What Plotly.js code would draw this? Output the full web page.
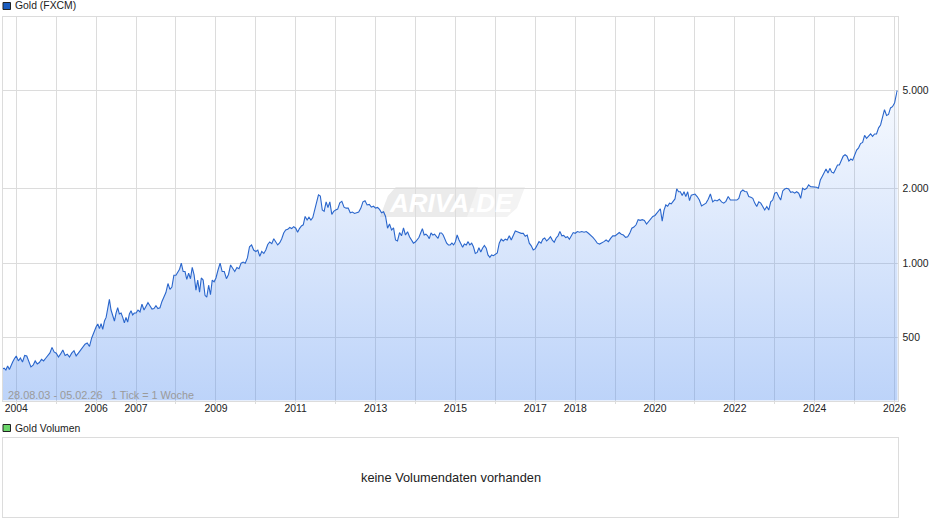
<!DOCTYPE html>
<html>
<head>
<meta charset="utf-8">
<script src="https://cdn.plot.ly/plotly-3.0.1.min.js"></script>
<style>html,body{margin:0;padding:0;background:#fff}#chart{width:940px;height:526px}</style>
</head>
<body>
<div id="chart"></div>
<script>
const seriesName = 'Gold (FXCM)';
const volumeName = 'Gold Volumen';
const volumeNote = 'keine Volumendaten vorhanden';
const rangeNote = '28.08.03 - 05.02.26';
const tickNote = '1 Tick = 1 Woche';
const watermark = 'ARIVA.DE';
const startDate = '2003-08-28';
const endDate = '2026-02-05';
const axisEnd = '2026-01-28';

const y2003 = [373,376,369,383,371,386,399,411];
const y2004 = [421,402,413,398,423,421,399,380,386,402,391,396,408,402,412,421,433,456,437];
const y2005 = [432,417,429,445,423,428,417,432,442,421,432,445,456,470,475,460,498,526];
const y2006 = [553,567,543,569,539,583,603,656,714,646,605,583,628,661,623,628,603,573,603,577,623,642,617,628];
const y2007 = [628,646,635,682,646,666,692,672,652,655,672,655,660,700,732,760,827,783,800,893];
const y2008 = [893,920,945,1000,925,925,860,910,865,961,897,778,854,763,871,854,741,729,814,745,854,840];
const y2009 = [871,938,1000,925,925,865,900,983,950,925,960,950,1000,1010,1000,1050,1165,1185,1130];
const y2010 = [1115,1130,1065,1115,1095,1130,1190,1218,1200,1256,1218,1185,1210,1256,1325,1362,1370,1394,1380,1405];
const y2011 = [1385,1333,1380,1415,1430,1545,1495,1535,1495,1530,1641,1780,1890,1870,1641,1620,1770,1680,1770,1575,1620];
const y2012 = [1640,1655,1755,1780,1685,1670,1670,1600,1610,1590,1600,1610,1670,1770,1790,1720,1730,1685,1700];
const y2013 = [1670,1680,1650,1600,1615,1545,1385,1440,1362,1390,1241,1230,1330,1290,1390,1300,1340,1280,1241,1205];
const y2014 = [1220,1245,1270,1325,1380,1300,1310,1290,1256,1325,1300,1310,1280,1260,1325,1325,1300,1241,1205,1185,1185,1205,1185];
const y2015 = [1222,1300,1241,1205,1160,1195,1185,1222,1185,1205,1165,1095,1105,1155,1110,1150,1180,1150,1080,1055,1080,1072];
const y2016 = [1090,1100,1205,1250,1230,1250,1240,1290,1240,1300,1350,1340,1330,1320,1320,1285,1300,1205,1175,1130];
const y2017 = [1145,1190,1222,1205,1250,1265,1230,1250,1280,1240,1215,1265,1290,1345,1290,1295,1270,1280,1250,1290,1330];
const y2018 = [1321,1342,1334,1342,1334,1342,1321,1301,1272,1241,1205,1195,1205,1222,1241,1222,1260,1290];
const y2019 = [1290,1310,1330,1310,1300,1272,1280,1320,1385,1400,1430,1500,1490,1500,1490,1440,1480,1520,1545];
const y2020 = [1560,1590,1615,1660,1480,1640,1720,1700,1750,1740,1780,1820,2000,1945,1945,1880,1945,1860,1945,1790,1885,1900];
const y2021 = [1905,1860,1801,1705,1735,1750,1815,1905,1770,1801,1785,1815,1770,1750,1780,1860,1801,1801];
const y2022 = [1801,1801,1830,1945,1977,1950,1945,1860,1850,1830,1750,1695,1770,1750,1695,1641,1695,1641,1770,1801];
const y2023 = [1920,1935,1860,1801,1960,1995,2010,1995,1935,1945,1920,1945,1920,1830,2010,1985,2010,2075,2040,2040];
const y2024 = [2040,2030,2010,2170,2245,2320,2405,2315,2420,2335,2315,2400,2495,2495,2615,2710,2750,2710,2590,2640,2610];
const y2025 = [2735,2871,2930,3050,3080,3290,3200,3260,3335,3260,3335,3335,3530,3625,3880,4180,3960,4000,4250,4300];
const y2026 = [4450,4700,4980,4950];

const yearRows = [y2003,y2004,y2005,y2006,y2007,y2008,y2009,y2010,y2011,y2012,y2013,y2014,y2015,y2016,y2017,y2018,y2019,y2020,y2021,y2022,y2023,y2024,y2025,y2026];
const gridYears = [2004,2005,2006,2007,2008,2009,2010,2011,2012,2013,2014,2015,2016,2017,2018,2019,2020,2021,2022,2023,2024,2025,2026];
const labelledYears = [2004,2006,2007,2009,2011,2013,2015,2017,2018,2020,2022,2024,2026];
const priceTicks = [500,1000,2000,5000];
const priceLabels = ['500','1.000','2.000','5.000'];
const axisFloor = 277;

const dates = [], prices = [];
yearRows.forEach(function (row, r) {
  const year = 2003 + r;
  const a = r === 0 ? Date.parse(startDate) : Date.UTC(year, 0, 1);
  const b = r === yearRows.length - 1 ? Date.parse(endDate) : Date.UTC(year + 1, 0, 1);
  const div = r === yearRows.length - 1 ? row.length - 1 : row.length;
  row.forEach(function (v, i) {
    dates.push(new Date(a + (b - a) * i / div).toISOString().slice(0, 10));
    prices.push(v);
  });
});

const W = 940, H = 526;
const px = v => v / W, py = v => 1 - v / H;
const font = '"Liberation Sans", Arial, sans-serif';
const grid = '#dcdcdc';

function label(text, x, y, size, color, extra) {
  return Object.assign({text: text, xref: 'paper', yref: 'paper', x: px(x), y: py(y), xanchor: 'left', yanchor: 'middle',
    showarrow: false, font: {family: font, size: size, color: color}}, extra || {});
}
function box(x0, y0, x1, y1, fill, line) {
  return {type: 'rect', xref: 'paper', yref: 'paper', x0: px(x0), x1: px(x1), y0: py(y0), y1: py(y1), fillcolor: fill, line: {color: line, width: 1}, layer: 'above'};
}
function poly(points, fill) {
  return {type: 'path', xref: 'paper', yref: 'paper', layer: 'below', fillcolor: fill, line: {width: 0},
    path: 'M' + points.map(p => px(p[0]).toFixed(5) + ',' + py(p[1]).toFixed(5)).join(' L') + ' Z'};
}

const traces = [
  {x: dates, y: dates.map(() => axisFloor), type: 'scatter', mode: 'lines', line: {width: 0, color: 'rgba(0,0,0,0)'}, showlegend: false, hoverinfo: 'skip'},
  {x: dates, y: prices, type: 'scatter', mode: 'lines', name: seriesName,
   line: {color: '#2a66cc', width: 1.1, shape: 'linear'},
   fill: 'tonexty',
   fillgradient: {type: 'vertical', colorscale: [[0, 'rgba(80,140,240,0.38)'], [1, 'rgba(80,140,240,0.05)']]},
   hoverinfo: 'skip', showlegend: false},
  {x: [], y: [], type: 'scatter', mode: 'lines', xaxis: 'x2', yaxis: 'y2', showlegend: false, hoverinfo: 'skip'}
];

const layout = {
  width: W, height: H,
  margin: {l: 0, r: 0, t: 0, b: 0, pad: 0},
  paper_bgcolor: '#ffffff', plot_bgcolor: 'rgba(0,0,0,0)',
  showlegend: false,
  hovermode: false,
  font: {family: font, size: 10.4, color: '#222222'},
  xaxis: {
    type: 'date', domain: [px(2.5), px(897.5)], range: [startDate, axisEnd], anchor: 'y',
    tickmode: 'array',
    tickvals: gridYears.map(y => y + '-01-01'),
    ticktext: gridYears.map(y => labelledYears.indexOf(y) >= 0 ? String(y) : ''),
    showgrid: true, gridcolor: grid, gridwidth: 1,
    ticks: 'outside', ticklen: 2, tickcolor: grid, tickwidth: 1, ticklabelstandoff: -4,
    showline: true, linecolor: grid, linewidth: 1, mirror: true,
    zeroline: false,
    tickfont: {family: font, size: 10.4, color: '#222222'}
  },
  yaxis: {
    type: 'log', domain: [py(400.5), py(16.5)], range: [2.4439, 3.9986], anchor: 'x', side: 'right',
    tickmode: 'array', tickvals: priceTicks, ticktext: priceLabels,
    showgrid: true, gridcolor: grid, gridwidth: 1,
    ticks: 'outside', ticklen: 2, tickcolor: 'rgba(0,0,0,0)',
    showline: true, linecolor: grid, linewidth: 1, mirror: true,
    zeroline: false,
    tickfont: {family: font, size: 10.4, color: '#222222'}
  },
  xaxis2: {domain: [px(2.5), px(897.5)], range: [0, 1], anchor: 'y2', showgrid: false, zeroline: false, showticklabels: false, ticks: '',
    showline: true, linecolor: grid, linewidth: 1, mirror: true},
  yaxis2: {domain: [py(516.5), py(437.5)], range: [0, 1], anchor: 'x2', showgrid: false, zeroline: false, showticklabels: false, ticks: '',
    showline: true, linecolor: grid, linewidth: 1, mirror: true},
  shapes: [
    box(3, 2.5, 10.5, 9.5, '#1a5cc0', '#222222'),
    box(3, 424.5, 10.5, 431.5, '#6bd66b', '#222222'),
    poly([[396,187],[525,187],[517,208],[507,217],[380,217],[388,196]], '#f3f3f3'),
    poly([[396,187],[478,187],[467,217],[380,217],[388,196]], '#ebebeb')
  ],
  annotations: [
    label(seriesName, 13, 6, 10.4, '#222222'),
    label(volumeName, 13, 428, 10.4, '#222222'),
    label(volumeNote, 451, 477.5, 12.8, '#222222', {xanchor: 'center'}),
    label(rangeNote, 6, 395, 10.9, '#9a9a9a'),
    label(tickNote, 109, 395, 10.8, '#9a9a9a'),
    label('<b><i>' + watermark + '</i></b>', 451, 203, 26, '#ffffff', {xanchor: 'center'})
  ]
};

Plotly.newPlot('chart', traces, layout, {displayModeBar: false, staticPlot: true});
</script>
</body>
</html>
